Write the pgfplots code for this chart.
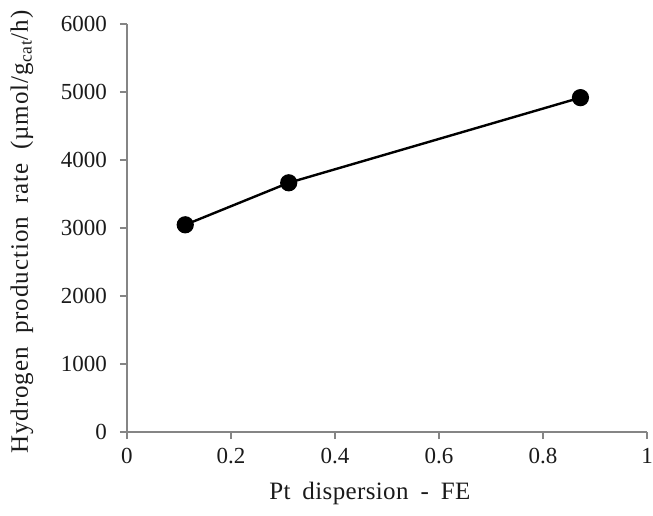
\documentclass[border=0pt]{standalone}
\usepackage{fontspec}
\setmainfont{Liberation Serif}
\newfontfamily\xlabfont[LetterSpace=1.5,WordSpace=1.8]{Liberation Serif}
\newfontfamily\ylabfont[LetterSpace=4,WordSpace=1.8]{Liberation Serif}
\usepackage{pgfplots}
\pgfplotsset{compat=1.18}
\definecolor{Ink}{HTML}{1A1A1A}
\definecolor{AxisGray}{HTML}{858585}

\begin{document}
\begin{tikzpicture}
  \useasboundingbox (-63.5pt,-41.5pt) rectangle (263pt,216pt);
  \begin{axis}[
    scale only axis,
    width=260pt, height=204pt,
    at={(0,0)}, anchor=south west,
    xmin=0, xmax=1,
    ymin=0, ymax=6000,
    xtick={0,0.2,0.4,0.6,0.8,1},
    ytick={0,1000,2000,3000,4000,5000,6000},
    axis lines*=left,
    axis line style={AxisGray, line width=0.6pt},
    tick style={AxisGray, line width=0.6pt},
    tick align=outside,
    major tick length=3.5pt,
    scaled y ticks=false,
    /pgf/number format/1000 sep={},
    /pgf/number format/assume math mode=true,
    tick label style={font=\fontsize{11.5}{13}\selectfont, color=Ink},
    yticklabel style={xshift=-3pt},
    xticklabel style={yshift=-1pt},
    xlabel={Pt dispersion - FE},
    ylabel={Hydrogen production rate (µmol/g\textsubscript{cat}/h)},
    every axis x label/.style={at={(axis description cs:0.467,-0.150)}, anchor=center,
      font=\xlabfont\fontsize{12.5}{15}\selectfont, color=Ink},
    every axis y label/.style={at={(axis description cs:-0.202,0.49)}, anchor=center, rotate=90,
      font=\ylabfont\fontsize{12.5}{15}\selectfont, color=Ink},
    clip=false,
  ]
    \addplot[black, line width=1.2pt, mark=*, mark size=3.7pt,
             mark options={fill=black}] coordinates {
      (0.112,3047)
      (0.311,3665)
      (0.872,4917)
    };
  \end{axis}
\end{tikzpicture}
\end{document}
